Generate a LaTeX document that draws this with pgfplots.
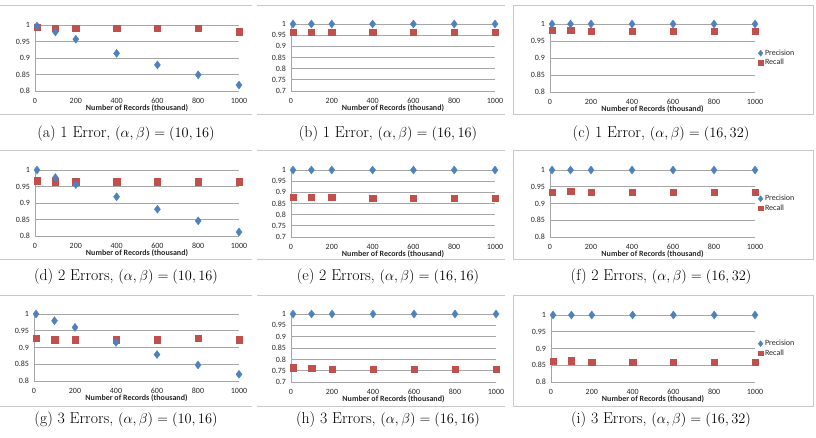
\documentclass[border=0pt]{standalone}
\usepackage{pgfplots}
\pgfplotsset{compat=1.18}
\usepackage{fontspec}
\newfontfamily\calibri{Carlito}
\definecolor{pblue}{HTML}{4F81BD}
\definecolor{rred}{HTML}{C0504D}
\definecolor{gridgray}{HTML}{A6A6A6}
\definecolor{framegray}{HTML}{C8C8C8}
\pgfplotsset{
  panel/.style={
    scale only axis, width=204pt, height=67pt,
    xmin=0, xmax=1000, clip=false,
    axis x line*=bottom, axis y line*=left,
    axis line style={-, draw=gridgray, line width=0.8pt},
    ymajorgrids, grid style={draw=gridgray, line width=0.8pt},
    major tick length=0pt,
    xtick={0,200,400,600,800,1000},
    scaled x ticks=false, scaled y ticks=false,
    /pgf/number format/1000 sep={},
    /pgf/number format/assume math mode=true,
    ticklabel style={font=\calibri\fontsize{8}{9}\selectfont, text=black!85},
    xticklabel style={anchor=center, yshift=-9.5pt},
    yticklabel style={xshift=-1.5pt},
    xlabel={Number of Records (thousand)},
    xlabel style={font=\calibri\bfseries\fontsize{8}{9}\selectfont, text=black!85, at={(rel axis cs:0.5,0)}, anchor=center, yshift=-17.5pt},
  },
  lowy/.style={ymin=0.8, ymax=1, ytick={0.8,0.85,0.9,0.95,1}},
  widey/.style={ymin=0.7, ymax=1, ytick={0.7,0.75,0.8,0.85,0.9,0.95,1}},
  leg/.style={reverse legend,
    legend style={at={(rel axis cs:1,0.5)}, anchor=west, xshift=3pt, draw=none, fill=none,
      font=\calibri\fontsize{8}{9}\selectfont, text=black!85, row sep=-1.5pt, inner sep=0pt},
    legend cell align=left,
    legend image code/.code={\draw[##1, mark options={scale=0.75}] plot coordinates {(0.1cm,0cm)};}},
  prec/.style={only marks, mark=diamond*, mark size=4pt, color=pblue},
  rec/.style={only marks, mark=square*, mark size=3.2pt, color=rred},
}
\begin{document}
\begin{tikzpicture}
\useasboundingbox (0pt,0pt) rectangle (816pt,-438pt);
% frames
\begin{scope}[draw=framegray, line width=0.8pt]
\foreach \t/\b in {5/114,150/259,295/406}{
  \draw (0pt,-\t pt) -- (252pt,-\t pt);
  \draw (0pt,-\b pt) -- (252pt,-\b pt);
  \draw (257pt,-\t pt) -- (505pt,-\t pt);
  \draw (257pt,-\b pt) -- (505pt,-\b pt);
  \draw (513pt,-\t pt) rectangle (813pt,-\b pt);
}
\end{scope}
% ---------- row 1 ----------
\begin{axis}[panel, lowy, at={(35pt,-91pt)}, anchor=south west, height=66pt]
\addplot[rec] coordinates {(10,0.993)(100,0.990)(200,0.990)(400,0.990)(600,0.990)(800,0.990)(1000,0.980)};
\addplot[prec] coordinates {(10,0.997)(100,0.979)(200,0.957)(400,0.914)(600,0.879)(800,0.849)(1000,0.818)};
\end{axis}
\begin{axis}[panel, widey, at={(291pt,-91pt)}, anchor=south west]
\addplot[rec] coordinates {(10,0.963)(100,0.963)(200,0.963)(400,0.963)(600,0.963)(800,0.963)(1000,0.963)};
\addplot[prec] coordinates {(10,1)(100,1)(200,1)(400,1)(600,1)(800,1)(1000,1)};
\end{axis}
\begin{axis}[panel, lowy, leg, at={(550pt,-92pt)}, anchor=south west, width=205pt, height=68pt]
\addplot[rec] coordinates {(10,0.981)(100,0.981)(200,0.979)(400,0.979)(600,0.979)(800,0.979)(1000,0.979)};
\addplot[prec] coordinates {(10,1)(100,1)(200,1)(400,1)(600,1)(800,1)(1000,1)};
\legend{Recall,Precision}
\end{axis}
% ---------- row 2 ----------
\begin{axis}[panel, lowy, at={(35pt,-236pt)}, anchor=south west, height=66pt]
\addplot[rec] coordinates {(10,0.967)(100,0.964)(200,0.964)(400,0.964)(600,0.964)(800,0.964)(1000,0.964)};
\addplot[prec] coordinates {(10,1.0)(100,0.977)(200,0.956)(400,0.919)(600,0.881)(800,0.846)(1000,0.812)};
\end{axis}
\begin{axis}[panel, widey, at={(291pt,-237pt)}, anchor=south west]
\addplot[rec] coordinates {(10,0.877)(100,0.877)(200,0.877)(400,0.874)(600,0.874)(800,0.874)(1000,0.874)};
\addplot[prec] coordinates {(10,1)(100,1)(200,1)(400,1)(600,1)(800,1)(1000,1)};
\end{axis}
\begin{axis}[panel, lowy, leg, at={(550pt,-237pt)}, anchor=south west, width=205pt]
\addplot[rec] coordinates {(10,0.933)(100,0.936)(200,0.933)(400,0.933)(600,0.933)(800,0.933)(1000,0.933)};
\addplot[prec] coordinates {(10,1)(100,1)(200,1)(400,1)(600,1)(800,1)(1000,1)};
\legend{Recall,Precision}
\end{axis}
% ---------- row 3 ----------
\begin{axis}[panel, lowy, at={(34pt,-381pt)}, anchor=south west, width=205pt]
\addplot[rec] coordinates {(10,0.927)(100,0.923)(200,0.923)(400,0.923)(600,0.923)(800,0.927)(1000,0.923)};
\addplot[prec] coordinates {(10,1.0)(100,0.980)(200,0.960)(400,0.915)(600,0.879)(800,0.848)(1000,0.820)};
\end{axis}
\begin{axis}[panel, widey, at={(291pt,-382pt)}, anchor=south west, width=205pt, height=68pt]
\addplot[rec] coordinates {(10,0.763)(100,0.760)(200,0.756)(400,0.756)(600,0.756)(800,0.756)(1000,0.756)};
\addplot[prec] coordinates {(10,1)(100,1)(200,1)(400,1)(600,1)(800,1)(1000,1)};
\end{axis}
\begin{axis}[panel, lowy, leg, at={(551pt,-382pt)}, anchor=south west]
\addplot[rec] coordinates {(10,0.862)(100,0.864)(200,0.859)(400,0.859)(600,0.859)(800,0.859)(1000,0.859)};
\addplot[prec] coordinates {(10,1)(100,1)(200,1)(400,1)(600,1)(800,1)(1000,1)};
\legend{Recall,Precision}
\end{axis}
% ---------- captions ----------
\begin{scope}[every node/.style={font=\fontsize{15.8}{18}\selectfont, inner sep=0pt}]
\node at (126pt,-134pt) {(a) 1 Error, $(\alpha,\beta)=(10,16)$};
\node at (388pt,-134pt) {(b) 1 Error, $(\alpha,\beta)=(16,16)$};
\node at (661pt,-134pt) {(c) 1 Error, $(\alpha,\beta)=(16,32)$};
\node at (126pt,-277pt) {(d) 2 Errors, $(\alpha,\beta)=(10,16)$};
\node at (388pt,-277pt) {(e) 2 Errors, $(\alpha,\beta)=(16,16)$};
\node at (661pt,-277pt) {(f) 2 Errors, $(\alpha,\beta)=(16,32)$};
\node at (126pt,-420pt) {(g) 3 Errors, $(\alpha,\beta)=(10,16)$};
\node at (388pt,-420pt) {(h) 3 Errors, $(\alpha,\beta)=(16,16)$};
\node at (661pt,-420pt) {(i) 3 Errors, $(\alpha,\beta)=(16,32)$};
\end{scope}
\end{tikzpicture}
\end{document}
